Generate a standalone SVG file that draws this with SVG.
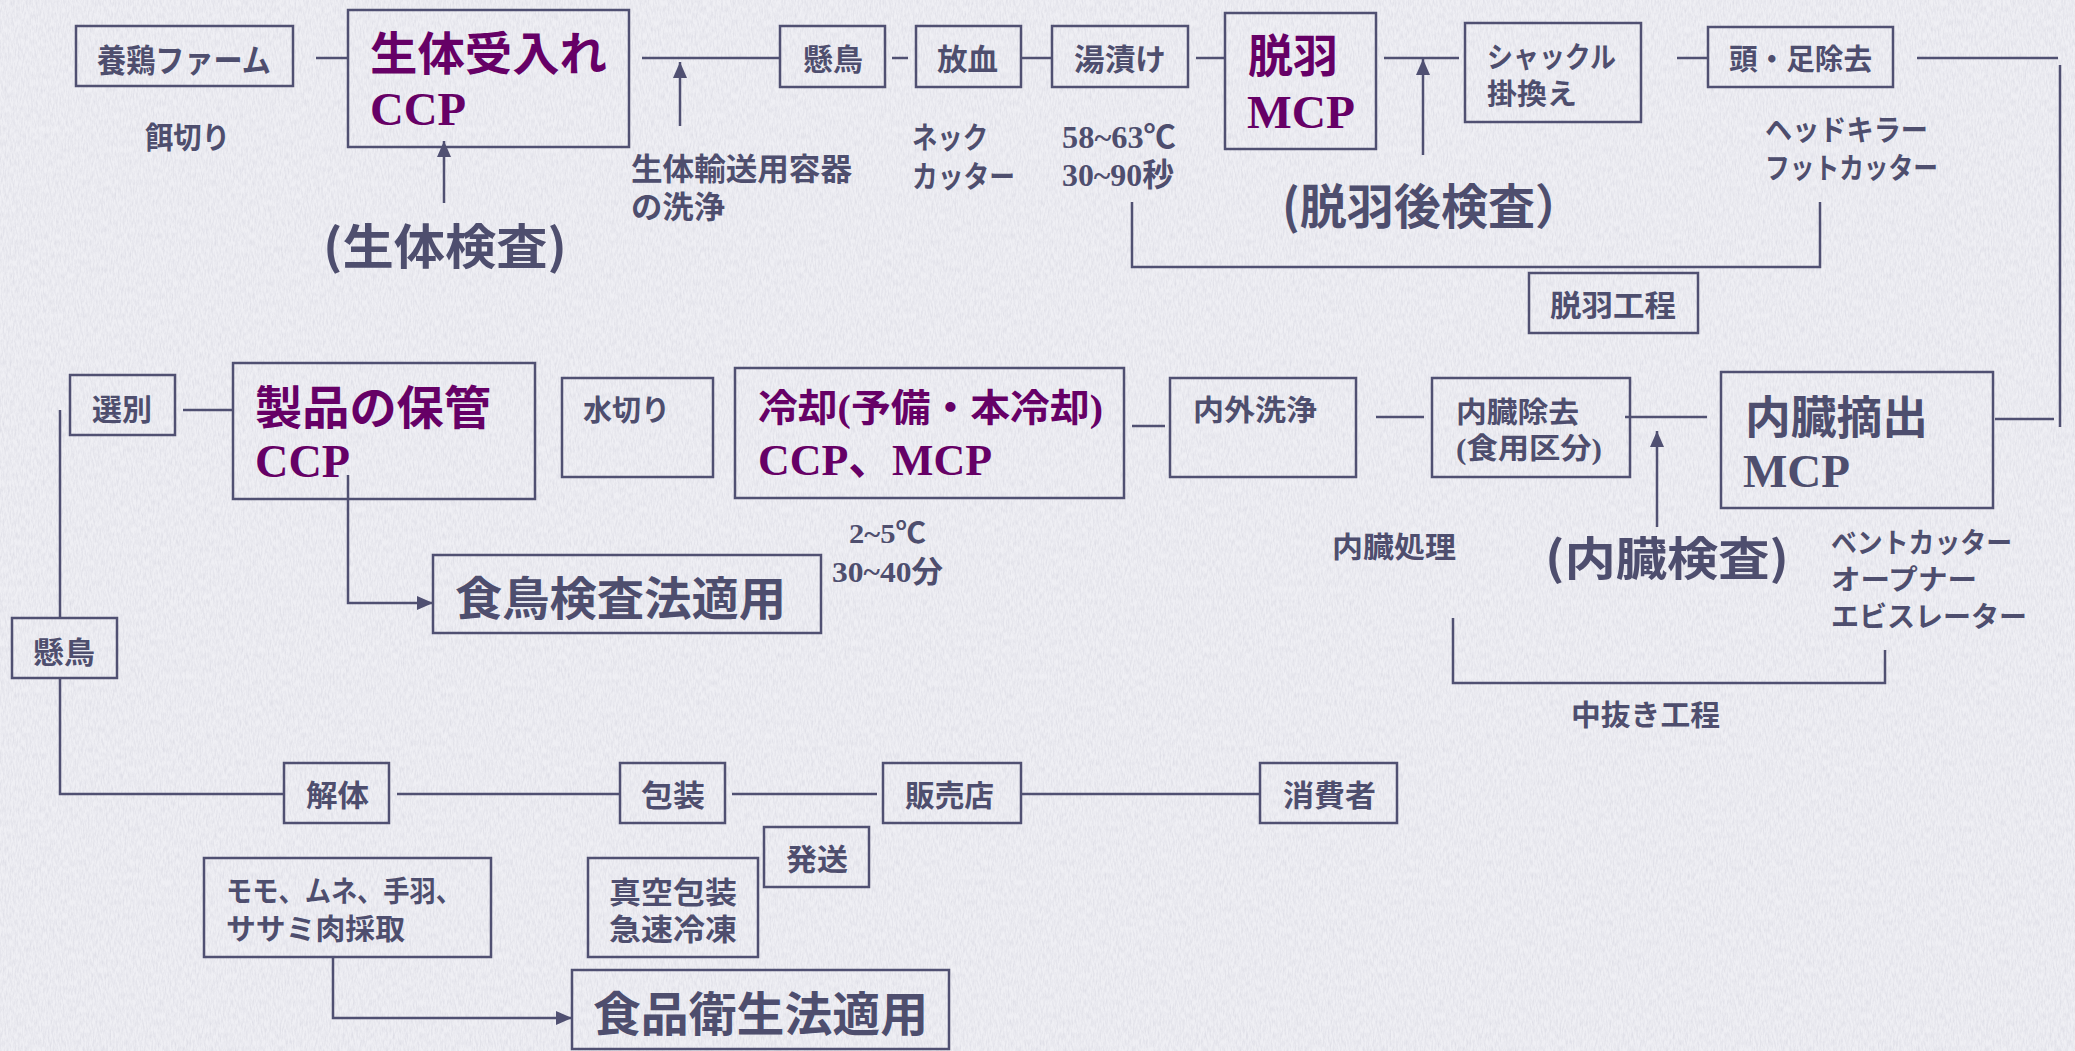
<svg xmlns="http://www.w3.org/2000/svg" width="2075" height="1051" viewBox="0 0 2075 1051">
<defs>
<filter id="paper" x="0" y="0" width="100%" height="100%">
<feTurbulence type="fractalNoise" baseFrequency="0.6 0.15" numOctaves="4" seed="7"/>
<feColorMatrix type="matrix" values="0 0 0 0 0.45  0 0 0 0 0.45  0 0 0 0 0.55  0.5 0 0 0 -0.17"/>
</filter>
<marker id="ah" markerUnits="userSpaceOnUse" markerWidth="16" markerHeight="14" refX="16" refY="7" orient="auto">
<path d="M0,0 L16,7 L0,14 z" fill="#505072"/>
</marker>
<style>
.bx{fill:none;stroke:#505072;stroke-width:2.5}
.ln{fill:none;stroke:#505072;stroke-width:2.5}
.ar{marker-end:url(#ah)}
.t{font-family:"Noto Sans CJK JP",sans-serif;font-weight:700;fill:#4e4e6e}
.sf{font-family:"Liberation Serif","Noto Sans CJK JP",serif;font-weight:700;fill:#4e4e6e}
.p{fill:#660066}
</style>
</defs>
<rect width="2075" height="1051" fill="#efeff4"/>
<rect width="2075" height="1051" filter="url(#paper)"/>

<g id="connectors">
<path class="ln" d="M316,58 H348"/>
<path class="ln" d="M642,58 H780"/>
<path class="ln ar" d="M444,203 V141"/>
<path class="ln ar" d="M680,126 V62"/>
<path class="ln" d="M892,58 H908"/>
<path class="ln" d="M1021,58 H1052"/>
<path class="ln" d="M1196,58 H1225"/>
<path class="ln" d="M1384,58 H1459"/>
<path class="ln ar" d="M1423,155 V59"/>
<path class="ln" d="M1677,58 H1708"/>
<path class="ln" d="M1917,58 H2058"/>
<path class="ln" d="M2060,65 V427"/>
<path class="ln" d="M1995,419 H2054"/>
<path class="ln" d="M1625,417 H1707"/>
<path class="ln ar" d="M1657,527 V431"/>
<path class="ln" d="M1376,417 H1424"/>
<path class="ln" d="M1132,426 H1165"/>
<path class="ln" d="M1132,202 V267 H1820 V202"/>
<path class="ln" d="M1453,618 V683 H1885 V650"/>
<path class="ln" d="M183,410 H233"/>
<path class="ln" d="M60,410 V618"/>
<path class="ln ar" d="M348,475 V603 H433"/>
<path class="ln" d="M60,678 V794 H284"/>
<path class="ln" d="M397,794 H620"/>
<path class="ln" d="M732,794 H877"/>
<path class="ln" d="M1021,794 H1260"/>
<path class="ln ar" d="M333,957 V1018 H572"/>
</g>

<g id="n-youkei"><rect class="bx" x="76" y="26" width="217" height="60"/><text class="t" x="97" y="72" font-size="32" textLength="174" lengthAdjust="spacingAndGlyphs">養鶏ファーム</text></g>
<g id="l-esagiri"><text class="t" x="145" y="148" font-size="30" textLength="85" lengthAdjust="spacingAndGlyphs">餌切り</text></g>
<g id="n-ukeire"><rect class="bx" x="348" y="10" width="281" height="137"/><text class="t p" x="370" y="70" font-size="46" textLength="237" lengthAdjust="spacingAndGlyphs">生体受入れ</text><text class="sf p" x="370" y="125" font-size="47" textLength="96" lengthAdjust="spacingAndGlyphs">CCP</text></g>
<g id="l-seitaikensa"><text class="t" x="323" y="264" font-size="48" textLength="244" lengthAdjust="spacingAndGlyphs">(生体検査)</text></g>
<g id="l-yoki"><text class="t" x="631" y="180" font-size="31" textLength="221" lengthAdjust="spacingAndGlyphs">生体輸送用容器</text><text class="t" x="631" y="218" font-size="31" textLength="94" lengthAdjust="spacingAndGlyphs">の洗浄</text></g>
<g id="n-kenchou"><rect class="bx" x="780" y="26" width="105" height="61"/><text class="t" x="803" y="70" font-size="30" textLength="60" lengthAdjust="spacingAndGlyphs">懸鳥</text></g>
<g id="n-houketsu"><rect class="bx" x="916" y="26" width="105" height="61"/><text class="t" x="937" y="70" font-size="30" textLength="61" lengthAdjust="spacingAndGlyphs">放血</text></g>
<g id="l-neck"><text class="t" x="912" y="148" font-size="30" textLength="76" lengthAdjust="spacingAndGlyphs">ネック</text><text class="t" x="912" y="187" font-size="30" textLength="103" lengthAdjust="spacingAndGlyphs">カッター</text></g>
<g id="n-yuzuke"><rect class="bx" x="1052" y="26" width="136" height="61"/><text class="t" x="1074" y="70" font-size="30" textLength="92" lengthAdjust="spacingAndGlyphs">湯漬け</text></g>
<g id="l-temp1"><text class="sf" x="1062" y="148" font-size="32" textLength="114" lengthAdjust="spacingAndGlyphs">58~63℃</text><text class="sf" x="1062" y="186" font-size="32" textLength="112" lengthAdjust="spacingAndGlyphs">30~90秒</text></g>
<g id="n-datsuu"><rect class="bx" x="1225" y="13" width="151" height="136"/><text class="t p" x="1248" y="72" font-size="46" textLength="90" lengthAdjust="spacingAndGlyphs">脱羽</text><text class="sf p" x="1247" y="128" font-size="47" textLength="108" lengthAdjust="spacingAndGlyphs">MCP</text></g>
<g id="l-datsuukensa"><text class="t" x="1282" y="224" font-size="48" textLength="300" lengthAdjust="spacingAndGlyphs">(脱羽後検査）</text></g>
<g id="n-shackle"><rect class="bx" x="1465" y="23" width="176" height="99"/><text class="t" x="1487" y="68" font-size="29" textLength="129" lengthAdjust="spacingAndGlyphs">シャックル</text><text class="t" x="1487" y="105" font-size="29" textLength="90" lengthAdjust="spacingAndGlyphs">掛換え</text></g>
<g id="n-atama"><rect class="bx" x="1708" y="27" width="185" height="60"/><text class="t" x="1729" y="70" font-size="29" textLength="143" lengthAdjust="spacingAndGlyphs">頭・足除去</text></g>
<g id="l-headkiller"><text class="t" x="1765" y="141" font-size="29" textLength="163" lengthAdjust="spacingAndGlyphs">ヘッドキラー</text><text class="t" x="1765" y="179" font-size="29" textLength="173" lengthAdjust="spacingAndGlyphs">フットカッター</text></g>
<g id="n-datsuukoutei"><rect class="bx" x="1529" y="273" width="169" height="60"/><text class="t" x="1550" y="316" font-size="30" textLength="126" lengthAdjust="spacingAndGlyphs">脱羽工程</text></g>

<g id="n-senbetsu"><rect class="bx" x="70" y="375" width="105" height="60"/><text class="t" x="92" y="420" font-size="30" textLength="60" lengthAdjust="spacingAndGlyphs">選別</text></g>
<g id="n-hokan"><rect class="bx" x="233" y="363" width="302" height="136"/><text class="t p" x="255" y="424" font-size="46" textLength="236" lengthAdjust="spacingAndGlyphs">製品の保管</text><text class="sf p" x="255" y="477" font-size="46" textLength="95" lengthAdjust="spacingAndGlyphs">CCP</text></g>
<g id="n-mizukiri"><rect class="bx" x="562" y="378" width="151" height="99"/><text class="t" x="583" y="421" font-size="29" textLength="87" lengthAdjust="spacingAndGlyphs">水切り</text></g>
<g id="n-reikyaku"><rect class="bx" x="735" y="368" width="389" height="130"/><text class="sf p" x="758" y="421" font-size="38" textLength="345" lengthAdjust="spacingAndGlyphs">冷却(予備・本冷却)</text><text class="sf p" x="758" y="475" font-size="45" textLength="234" lengthAdjust="spacingAndGlyphs">CCP、MCP</text></g>
<g id="l-temp2"><text class="sf" x="849" y="543" font-size="28" textLength="77" lengthAdjust="spacingAndGlyphs">2~5℃</text><text class="sf" x="832" y="582" font-size="30" textLength="111" lengthAdjust="spacingAndGlyphs">30~40分</text></g>
<g id="n-naigai"><rect class="bx" x="1170" y="378" width="186" height="99"/><text class="t" x="1193" y="421" font-size="29" textLength="124" lengthAdjust="spacingAndGlyphs">内外洗浄</text></g>
<g id="n-naizoujokyo"><rect class="bx" x="1432" y="378" width="198" height="99"/><text class="t" x="1456" y="423" font-size="29" textLength="123" lengthAdjust="spacingAndGlyphs">内臓除去</text><text class="sf" x="1456" y="459" font-size="29" textLength="146" lengthAdjust="spacingAndGlyphs">(食用区分)</text></g>
<g id="n-tekishutsu"><rect class="bx" x="1721" y="372" width="272" height="136"/><text class="t" x="1745" y="434" font-size="45" textLength="183" lengthAdjust="spacingAndGlyphs">内臓摘出</text><text class="sf" x="1743" y="487" font-size="46" textLength="107" lengthAdjust="spacingAndGlyphs">MCP</text></g>
<g id="n-shokuchou"><rect class="bx" x="433" y="555" width="388" height="78"/><text class="t" x="455" y="615" font-size="46" textLength="331" lengthAdjust="spacingAndGlyphs">食鳥検査法適用</text></g>
<g id="l-naizoushori"><text class="t" x="1332" y="558" font-size="29" textLength="124" lengthAdjust="spacingAndGlyphs">内臓処理</text></g>
<g id="l-naizoukensa"><text class="t" x="1545" y="575" font-size="46" textLength="244" lengthAdjust="spacingAndGlyphs">(内臓検査)</text></g>
<g id="l-vent"><text class="t" x="1831" y="553" font-size="28" textLength="181" lengthAdjust="spacingAndGlyphs">ベントカッター</text><text class="t" x="1831" y="590" font-size="28" textLength="146" lengthAdjust="spacingAndGlyphs">オープナー</text><text class="t" x="1831" y="627" font-size="28" textLength="196" lengthAdjust="spacingAndGlyphs">エビスレーター</text></g>
<g id="l-nakanuki"><text class="t" x="1571" y="726" font-size="29" textLength="149" lengthAdjust="spacingAndGlyphs">中抜き工程</text></g>
<g id="n-kenchou2"><rect class="bx" x="12" y="618" width="105" height="60"/><text class="t" x="33" y="663" font-size="30" textLength="62" lengthAdjust="spacingAndGlyphs">懸鳥</text></g>

<g id="n-kaitai"><rect class="bx" x="284" y="763" width="105" height="60"/><text class="t" x="306" y="806" font-size="30" textLength="63" lengthAdjust="spacingAndGlyphs">解体</text></g>
<g id="n-housou"><rect class="bx" x="620" y="763" width="105" height="60"/><text class="t" x="641" y="806" font-size="30" textLength="64" lengthAdjust="spacingAndGlyphs">包装</text></g>
<g id="n-hanbaiten"><rect class="bx" x="883" y="763" width="138" height="60"/><text class="t" x="905" y="806" font-size="30" textLength="89" lengthAdjust="spacingAndGlyphs">販売店</text></g>
<g id="n-shouhisha"><rect class="bx" x="1260" y="763" width="137" height="60"/><text class="t" x="1283" y="806" font-size="30" textLength="93" lengthAdjust="spacingAndGlyphs">消費者</text></g>
<g id="n-hassou"><rect class="bx" x="764" y="827" width="105" height="60"/><text class="t" x="786" y="870" font-size="30" textLength="62" lengthAdjust="spacingAndGlyphs">発送</text></g>
<g id="n-momo"><rect class="bx" x="204" y="858" width="287" height="99"/><text class="t" x="226" y="902" font-size="29" textLength="236" lengthAdjust="spacingAndGlyphs">モモ、ムネ、手羽、</text><text class="t" x="226" y="940" font-size="29" textLength="179" lengthAdjust="spacingAndGlyphs">ササミ肉採取</text></g>
<g id="n-shinku"><rect class="bx" x="588" y="858" width="170" height="99"/><text class="t" x="609" y="903" font-size="30" textLength="128" lengthAdjust="spacingAndGlyphs">真空包装</text><text class="t" x="609" y="940" font-size="30" textLength="128" lengthAdjust="spacingAndGlyphs">急速冷凍</text></g>
<g id="n-shokuhin"><rect class="bx" x="572" y="970" width="377" height="79"/><text class="t" x="593" y="1031" font-size="47" textLength="335" lengthAdjust="spacingAndGlyphs">食品衛生法適用</text></g>
</svg>
